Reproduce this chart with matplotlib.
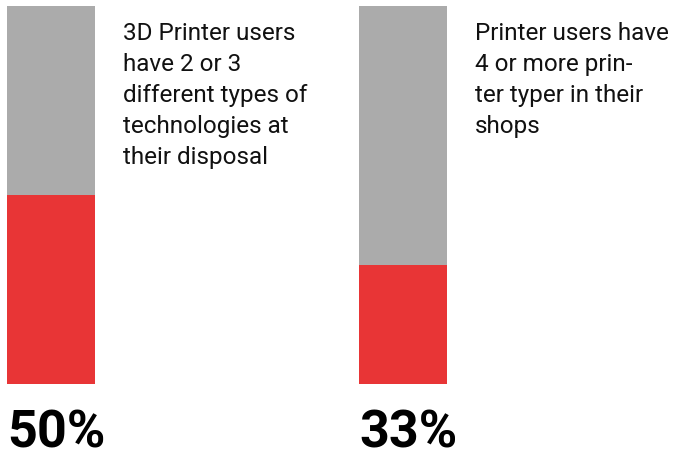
import matplotlib.pyplot as plt

labels = ['50%', '33%']
red_share = [50, 31.5]
totals = [100, 100]
notes = ['3D Printer users\nhave 2 or 3\ndifferent types of\ntechnologies at\ntheir disposal',
         'Printer users have\n4 or more prin-\nter typer in their\nshops']

gray = '#ababab'
red = '#e83536'

fig = plt.figure(figsize=(6.83, 4.56), dpi=100)
ax = fig.add_axes([0, 71 / 456, 1, 378 / 456])

pos = [0, 1]
rest = [t - r for t, r in zip(totals, red_share)]
ax.bar(pos, red_share, width=0.25, color=red)
ax.bar(pos, rest, width=0.25, bottom=red_share, color=gray)

ax.set_xlim(-51 / 352, (683 - 51) / 352)
ax.set_ylim(0, 100)
ax.axis('off')

for p, lab, note in zip(pos, labels, notes):
    ax.annotate(lab, (p - 0.125, 0), xytext=(0, -17), textcoords='offset points',
                ha='left', va='top', fontsize=37.5, fontweight='bold', family='Roboto')
    ax.annotate(note, (p + 0.125, 100), xytext=(20, -11), textcoords='offset points',
                ha='left', va='top', fontsize=17.5, family='Roboto', linespacing=1.44,
                color='#111111')

fig.savefig('out.png', dpi=100)
